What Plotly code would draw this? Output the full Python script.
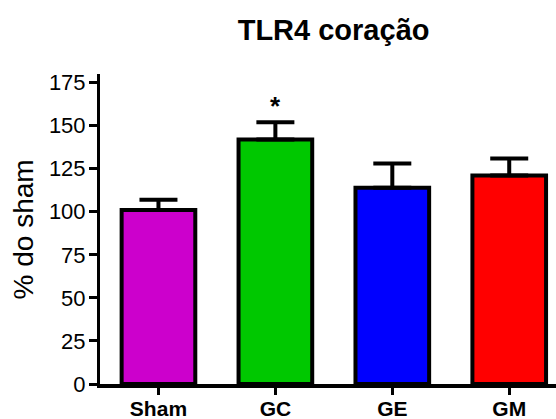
import plotly.graph_objects as go

# Group means (% of sham) and upper SEM
groups = ["Sham", "GC", "GE", "GM"]
means = [101, 142, 114, 121]
sem = [6, 10, 14, 10]
colors = ["#CC00CC", "#00C800", "#0000FF", "#FF0000"]
y_ticks = [0, 25, 50, 75, 100, 125, 150, 175]

fig = go.Figure(
    go.Bar(
        x=groups,
        y=means,
        width=0.63,
        marker=dict(color=colors, line=dict(color="black", width=4)),
        error_y=dict(
            type="data",
            symmetric=False,
            array=sem,
            arrayminus=[0] * len(sem),
            color="black",
            thickness=4,
            width=19,
        ),
    )
)

# significance mark over GC
fig.add_annotation(
    x="GC", y=means[1] + sem[1], text="<b>*</b>", showarrow=False,
    yanchor="bottom", yshift=-1, font=dict(size=26, color="black"),
)

# y-axis title
fig.add_annotation(
    xref="paper", yref="paper", x=-0.168, y=0.5, text="% do sham",
    xanchor="center", yanchor="middle",
    textangle=-90, showarrow=False, font=dict(size=28, color="black"),
)

font_family = "Liberation Sans, Arial, sans-serif"
fig.update_layout(
    width=556,
    height=419,
    margin=dict(l=100, r=0, t=74, b=35),
    paper_bgcolor="white",
    plot_bgcolor="white",
    font=dict(family=font_family, color="black"),
    showlegend=False,
    title=dict(
        text="<b>TLR4 coração</b>", x=0.6, xanchor="center", y=0.928,
        yanchor="middle", font=dict(size=29, color="black"),
    ),
    xaxis=dict(
        range=[-0.5, 3.4], automargin=False,
        showline=True, linecolor="black", linewidth=4,
        ticks="outside", ticklen=7, tickwidth=3, tickcolor="black",
        ticklabelstandoff=-4,
        tickfont=dict(size=21, family=font_family),
        tickprefix="<b>", ticksuffix="</b>",
        showgrid=False, zeroline=False, fixedrange=True,
    ),
    yaxis=dict(
        range=[0, 180], automargin=False,
        tickvals=y_ticks,
        showline=True, linecolor="black", linewidth=3,
        ticks="outside", ticklen=8, tickwidth=3, tickcolor="black",
        ticklabelstandoff=-1,
        tickfont=dict(size=22, family=font_family),
        tickprefix="<b>", ticksuffix="</b>",
        showgrid=False, zeroline=False, fixedrange=True,
    ),
)

fig.write_html("out.html")
